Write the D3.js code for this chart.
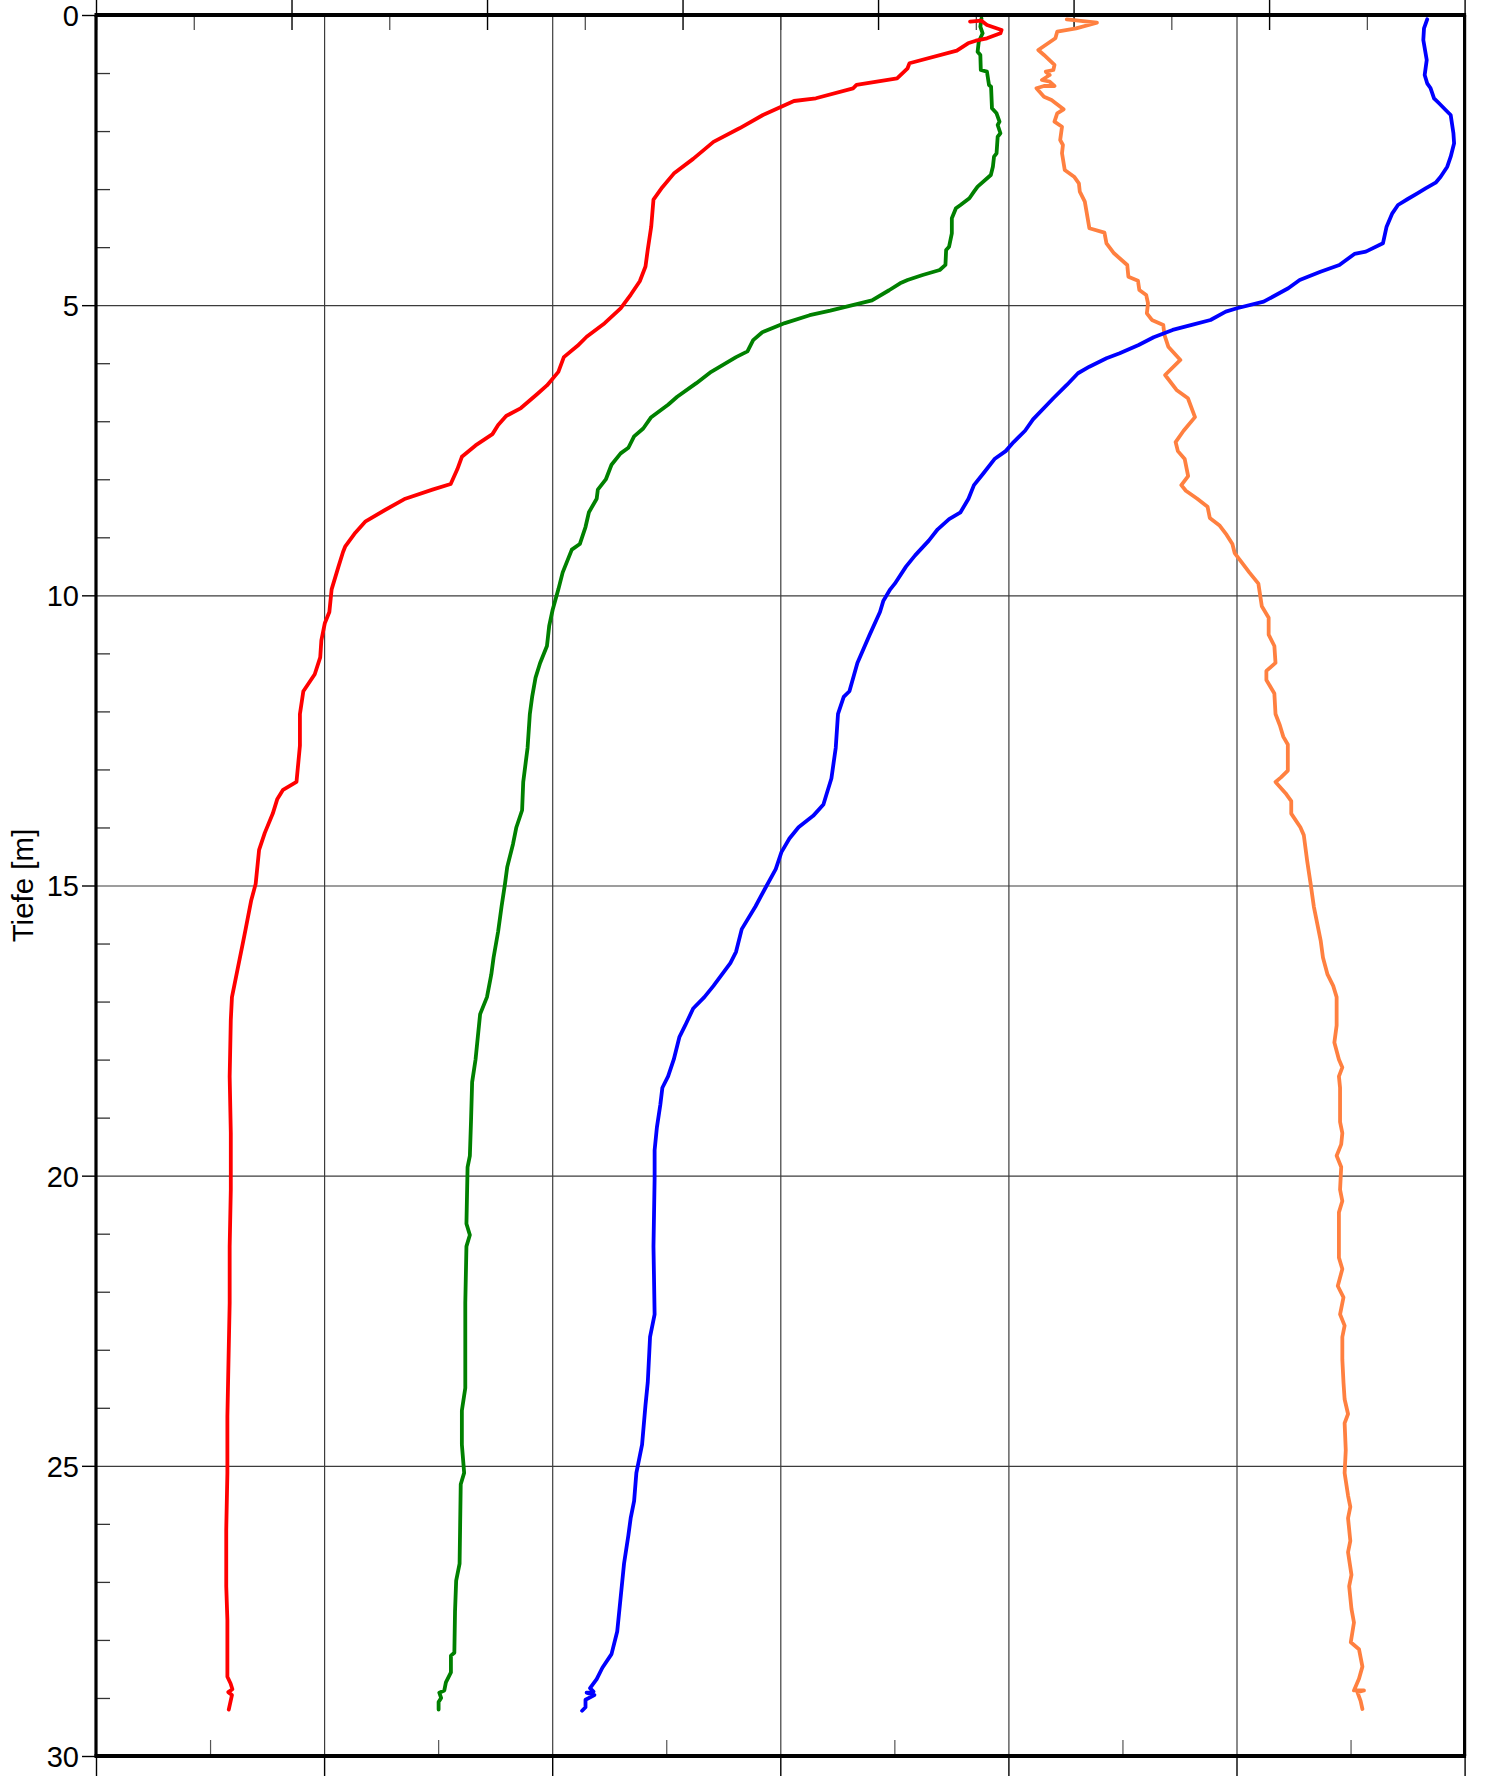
<!DOCTYPE html>
<html><head><meta charset="utf-8">
<script src="https://cdn.jsdelivr.net/npm/d3@7"></script>
<style>body{margin:0;background:#fff}svg{display:block}</style>
</head><body><svg id="c" width="1494" height="1776"></svg>
<script>
// ---- data: [depth (m), value (bottom-axis units)] ----
const depthTicks = [0, 5, 10, 15, 20, 25, 30];
const depthLabels = ["0", "5", "10", "15", "20", "25", "30"];
const depthMinor = [1,2,3,4,6,7,8,9,11,12,13,14,16,17,18,19,21,22,23,24,26,27,28,29];
const bottomMajor = [0, 1, 2, 3, 4, 5, 6];
const bottomMinor = [0.5, 1.5, 2.5, 3.5, 4.5, 5.5];
const topMajor = [0, 1, 2, 3, 4, 5, 6, 7];
const topMinor = [0.5, 1.5, 2.5, 3.5, 4.5, 5.5, 6.5];
const axisTitle = "Tiefe [m]";

const red = [[0.115,3.832],[0.098,3.882],[0.172,3.906],[0.258,3.970],[0.315,3.965],[0.401,3.906],[0.443,3.857],[0.488,3.823],[0.615,3.774],[0.832,3.566],[0.918,3.558],[1.091,3.512],[1.206,3.334],[1.263,3.319],[1.435,3.156],[1.482,3.060],[1.723,2.924],[1.952,2.821],[2.186,2.707],[2.479,2.618],[2.733,2.533],[2.967,2.483],[3.182,2.444],[3.650,2.434],[4.041,2.419],[4.333,2.409],[4.587,2.384],[4.821,2.344],[5.056,2.300],[5.310,2.230],[5.544,2.151],[5.700,2.111],[5.895,2.051],[6.149,2.027],[6.383,1.977],[6.539,1.932],[6.773,1.863],[6.910,1.798],[7.066,1.763],[7.222,1.738],[7.417,1.664],[7.613,1.604],[7.828,1.584],[8.081,1.555],[8.179,1.475],[8.335,1.356],[8.530,1.267],[8.725,1.182],[8.921,1.137],[9.155,1.093],[9.253,1.083],[9.506,1.063],[9.897,1.033],[10.287,1.023],[10.482,1.003],[10.775,0.988],[11.068,0.983],[11.360,0.959],[11.653,0.909],[12.044,0.894],[12.590,0.894],[13.215,0.879],[13.352,0.820],[13.508,0.795],[13.761,0.775],[14.093,0.740],[14.386,0.715],[14.972,0.700],[15.264,0.680],[15.752,0.656],[15.948,0.646],[16.436,0.621],[16.729,0.606],[16.924,0.596],[17.314,0.591],[18.290,0.586],[19.266,0.591],[20.242,0.591],[21.218,0.586],[22.194,0.586],[23.170,0.581],[24.146,0.576],[25.122,0.576],[26.098,0.571],[27.074,0.571],[27.660,0.576],[28.635,0.576],[28.75,0.590],[28.85,0.598],[28.90,0.580],[28.95,0.596],[29.2,0.582]];

const green = [[0.057,3.882],[0.202,3.877],[0.315,3.887],[0.460,3.870],[0.632,3.865],[0.689,3.877],[0.948,3.879],[0.977,3.906],[1.206,3.915],[1.235,3.924],[1.608,3.928],[1.694,3.948],[1.838,3.961],[1.895,3.953],[2.038,3.965],[2.097,3.953],[2.383,3.948],[2.441,3.937],[2.614,3.932],[2.757,3.923],[2.958,3.865],[3.044,3.849],[3.158,3.829],[3.274,3.790],[3.330,3.770],[3.503,3.752],[3.761,3.752],[3.992,3.740],[4.049,3.727],[4.307,3.724],[4.394,3.699],[4.480,3.624],[4.566,3.558],[4.623,3.525],[4.743,3.477],[4.919,3.402],[5.095,3.219],[5.173,3.129],[5.309,3.020],[5.466,2.921],[5.602,2.881],[5.797,2.856],[5.895,2.806],[6.149,2.697],[6.344,2.632],[6.578,2.548],[6.715,2.508],[6.930,2.434],[7.125,2.399],[7.261,2.359],[7.457,2.334],[7.554,2.300],[7.749,2.260],[8.003,2.235],[8.179,2.200],[8.335,2.195],[8.569,2.161],[8.823,2.146],[9.116,2.121],[9.213,2.086],[9.604,2.046],[9.897,2.027],[10.248,2.002],[10.521,1.987],[10.873,1.977],[11.165,1.947],[11.419,1.927],[11.751,1.912],[12.044,1.902],[12.629,1.892],[13.215,1.873],[13.703,1.868],[13.996,1.843],[14.288,1.828],[14.679,1.803],[14.972,1.793],[15.362,1.778],[15.792,1.763],[16.241,1.743],[16.533,1.733],[16.924,1.714],[17.217,1.684],[17.607,1.674],[17.997,1.664],[18.388,1.649],[19.071,1.644],[19.657,1.639],[19.852,1.629],[20.828,1.624],[21.023,1.639],[21.218,1.624],[22.194,1.619],[23.658,1.619],[24.048,1.604],[24.634,1.604],[25.122,1.614],[25.317,1.599],[26.684,1.594],[26.977,1.579],[27.504,1.574],[28.22,1.571],[28.27,1.556],[28.56,1.556],[28.73,1.534],[28.87,1.527],[28.91,1.505],[29.0,1.513],[29.07,1.502],[29.2,1.502]];

const blue = [[0.074,5.836],[0.229,5.822],[0.431,5.819],[0.775,5.834],[1.034,5.825],[1.177,5.836],[1.263,5.851],[1.435,5.866],[1.521,5.888],[1.637,5.917],[1.723,5.939],[2.038,5.951],[2.211,5.954],[2.441,5.939],[2.614,5.924],[2.786,5.895],[2.889,5.873],[2.986,5.829],[3.072,5.793],[3.175,5.749],[3.274,5.708],[3.417,5.683],[3.648,5.658],[3.934,5.642],[4.078,5.567],[4.118,5.517],[4.307,5.451],[4.423,5.368],[4.566,5.277],[4.709,5.227],[4.940,5.119],[5.053,5.002],[5.112,4.953],[5.255,4.886],[5.341,4.804],[5.427,4.720],[5.553,4.637],[5.686,4.571],[5.829,4.488],[5.915,4.430],[6.060,4.355],[6.173,4.305],[6.375,4.256],[6.604,4.197],[6.969,4.108],[7.164,4.073],[7.359,4.023],[7.515,3.988],[7.652,3.939],[7.905,3.889],[8.101,3.849],[8.335,3.825],[8.569,3.790],[8.686,3.740],[8.862,3.690],[9.057,3.651],[9.311,3.591],[9.506,3.551],[9.799,3.502],[9.897,3.482],[10.092,3.452],[10.287,3.437],[10.677,3.392],[11.165,3.338],[11.653,3.303],[11.751,3.278],[12.044,3.253],[12.629,3.243],[13.156,3.224],[13.410,3.204],[13.605,3.189],[13.800,3.144],[13.996,3.080],[14.191,3.040],[14.425,3.005],[14.718,2.980],[15.069,2.931],[15.362,2.891],[15.752,2.831],[16.143,2.806],[16.338,2.781],[16.729,2.707],[16.924,2.667],[17.119,2.618],[17.412,2.583],[17.607,2.558],[17.997,2.533],[18.290,2.508],[18.485,2.483],[18.778,2.474],[19.168,2.459],[19.559,2.449],[20.047,2.449],[21.218,2.444],[22.389,2.449],[22.780,2.429],[23.560,2.419],[23.951,2.409],[24.634,2.394],[25.122,2.369],[25.610,2.359],[25.903,2.344],[26.196,2.334],[26.684,2.315],[26.879,2.310],[27.465,2.295],[27.855,2.285],[28.245,2.260],[28.479,2.220],[28.674,2.195],[28.830,2.166],[28.89,2.181],[28.91,2.151],[28.95,2.185],[29.03,2.146],[29.16,2.146],[29.22,2.131]];

const orange = [[0.074,4.256],[0.133,4.388],[0.229,4.297],[0.288,4.214],[0.401,4.206],[0.603,4.131],[0.689,4.156],[0.861,4.202],[0.948,4.197],[0.977,4.164],[1.034,4.181],[1.120,4.147],[1.149,4.181],[1.223,4.202],[1.223,4.156],[1.263,4.123],[1.408,4.156],[1.465,4.189],[1.625,4.242],[1.694,4.214],[1.838,4.202],[1.925,4.235],[2.154,4.227],[2.240,4.239],[2.383,4.235],[2.671,4.247],[2.786,4.288],[2.900,4.309],[3.044,4.313],[3.217,4.335],[3.675,4.355],[3.751,4.421],[3.934,4.430],[4.106,4.463],[4.307,4.521],[4.509,4.526],[4.578,4.568],[4.738,4.574],[4.824,4.604],[4.967,4.612],[5.140,4.607],[5.255,4.629],[5.341,4.679],[5.513,4.684],[5.715,4.701],[5.944,4.754],[6.203,4.687],[6.461,4.737],[6.604,4.787],[6.929,4.818],[7.164,4.768],[7.359,4.733],[7.515,4.743],[7.652,4.773],[7.945,4.788],[8.101,4.758],[8.198,4.778],[8.335,4.828],[8.472,4.873],[8.667,4.883],[8.803,4.927],[8.959,4.957],[9.116,4.982],[9.272,4.992],[9.428,5.022],[9.604,5.056],[9.799,5.096],[10.189,5.111],[10.385,5.141],[10.677,5.141],[10.873,5.166],[11.165,5.171],[11.302,5.131],[11.458,5.131],[11.692,5.166],[12.044,5.171],[12.239,5.190],[12.434,5.205],[12.571,5.225],[13.020,5.225],[13.137,5.195],[13.215,5.171],[13.410,5.215],[13.547,5.240],[13.761,5.240],[13.996,5.280],[14.132,5.295],[14.581,5.310],[14.972,5.325],[15.362,5.339],[15.655,5.354],[15.948,5.369],[16.241,5.379],[16.533,5.399],[16.729,5.424],[16.924,5.439],[17.412,5.439],[17.704,5.429],[17.997,5.449],[18.134,5.464],[18.290,5.449],[18.485,5.454],[19.071,5.454],[19.266,5.464],[19.461,5.459],[19.657,5.439],[19.852,5.459],[20.242,5.454],[20.437,5.464],[20.632,5.449],[21.413,5.449],[21.608,5.464],[21.901,5.444],[22.097,5.469],[22.389,5.454],[22.584,5.474],[22.780,5.464],[23.170,5.464],[23.560,5.469],[23.853,5.474],[24.107,5.489],[24.263,5.474],[24.731,5.479],[25.122,5.474],[25.512,5.489],[25.708,5.499],[25.903,5.489],[26.293,5.499],[26.489,5.489],[26.879,5.504],[27.074,5.494],[27.465,5.504],[27.700,5.515],[28.040,5.501],[28.160,5.537],[28.460,5.552],[28.670,5.537],[28.870,5.515],[28.870,5.559],[28.900,5.530],[29.050,5.544],[29.190,5.552]];

// ---- layout ----
const L = 96, R = 1464.6, T = 15, B = 1756;
const y = d3.scaleLinear().domain([0, 30]).range([T, B]);
const xBottom = d3.scaleLinear().domain([0, 6]).range([L, R]);
const xTop = d3.scaleLinear().domain([0, 7]).range([L, R]);
const svg = d3.select("#c");
const noDomain = g => g.select(".domain").remove();

// gridlines
svg.append("g").attr("transform", `translate(0,${B})`)
  .call(d3.axisBottom(xBottom).tickValues(bottomMajor.slice(1, -1)).tickSize(-(B - T)).tickFormat(""))
  .call(noDomain)
  .selectAll("line").attr("stroke", "#3c3c3c").attr("stroke-width", 1.2);
svg.append("g").attr("transform", `translate(${L},0)`)
  .call(d3.axisRight(y).tickValues(depthTicks.slice(1, -1)).tickSize(R - L).tickFormat(""))
  .call(noDomain)
  .selectAll("line").attr("stroke", "#3c3c3c").attr("stroke-width", 1.2);

// top axis: majors crossing, minors inward
svg.append("g").attr("transform", `translate(0,${T})`)
  .call(d3.axisTop(xTop).tickValues(topMajor).tickSize(15).tickFormat(""))
  .call(noDomain).selectAll("line").attr("stroke", "#000").attr("stroke-width", 1.4);
svg.append("g").attr("transform", `translate(0,${T})`)
  .call(d3.axisBottom(xTop).tickValues(topMajor).tickSize(15).tickFormat(""))
  .call(noDomain).selectAll("line").attr("stroke", "#000").attr("stroke-width", 1.4);
svg.append("g").attr("transform", `translate(0,${T})`)
  .call(d3.axisBottom(xTop).tickValues(topMinor).tickSize(15).tickFormat(""))
  .call(noDomain).selectAll("line").attr("stroke", "#444").attr("stroke-width", 1.2);

// bottom axis: majors outward, minors inward
svg.append("g").attr("transform", `translate(0,${B})`)
  .call(d3.axisBottom(xBottom).tickValues(bottomMajor).tickSize(20).tickFormat(""))
  .call(noDomain).selectAll("line").attr("stroke", "#000").attr("stroke-width", 1.4);
svg.append("g").attr("transform", `translate(0,${B})`)
  .call(d3.axisTop(xBottom).tickValues(bottomMinor).tickSize(16).tickFormat(""))
  .call(noDomain).selectAll("line").attr("stroke", "#555").attr("stroke-width", 1.2);

// left axis
const leftAxis = svg.append("g").attr("transform", `translate(${L},0)`)
  .call(d3.axisLeft(y).tickValues(depthTicks).tickSize(14).tickPadding(3).tickFormat((d, i) => depthLabels[i]))
  .call(noDomain);
leftAxis.selectAll("line").attr("stroke", "#000").attr("stroke-width", 1.4);
leftAxis.selectAll("text").attr("font-family", "Liberation Sans, Arial, sans-serif")
  .attr("font-size", 29).attr("fill", "#000").attr("dy", "0.36em");
svg.append("g").attr("transform", `translate(${L},0)`)
  .call(d3.axisRight(y).tickValues(depthMinor).tickSize(14).tickFormat(""))
  .call(noDomain).selectAll("line").attr("stroke", "#333").attr("stroke-width", 1.3);

svg.append("text").attr("transform", `translate(33,${(T + B) / 2}) rotate(-90)`)
  .attr("text-anchor", "middle").attr("font-family", "Liberation Sans, Arial, sans-serif")
  .attr("font-size", 29.5).attr("fill", "#000").text(axisTitle);

// profiles
const line = d3.line().x(d => xBottom(d[1])).y(d => y(d[0]));
const series = [
  {data: orange, color: "#ff8040"},
  {data: green, color: "#008000"},
  {data: blue, color: "#0000ff"},
  {data: red, color: "#ff0000"}
];
svg.append("g").selectAll("path").data(series).join("path")
  .attr("d", s => line(s.data)).attr("fill", "none").attr("stroke", s => s.color)
  .attr("stroke-width", 3.8).attr("stroke-linejoin", "round").attr("stroke-linecap", "round");

// frame
const frame = svg.append("g").attr("stroke", "#000");
frame.append("line").attr("x1", L - 1.5).attr("x2", R + 1.5).attr("y1", y(0)).attr("y2", y(0)).attr("stroke-width", 4);
frame.append("line").attr("x1", L - 1.5).attr("x2", R + 1.5).attr("y1", y(30)).attr("y2", y(30)).attr("stroke-width", 4);
frame.append("line").attr("x1", xBottom(0)).attr("x2", xBottom(0)).attr("y1", T).attr("y2", B).attr("stroke-width", 3.2);
frame.append("line").attr("x1", xBottom(6)).attr("x2", xBottom(6)).attr("y1", T).attr("y2", B).attr("stroke-width", 3.2);
</script></body></html>
